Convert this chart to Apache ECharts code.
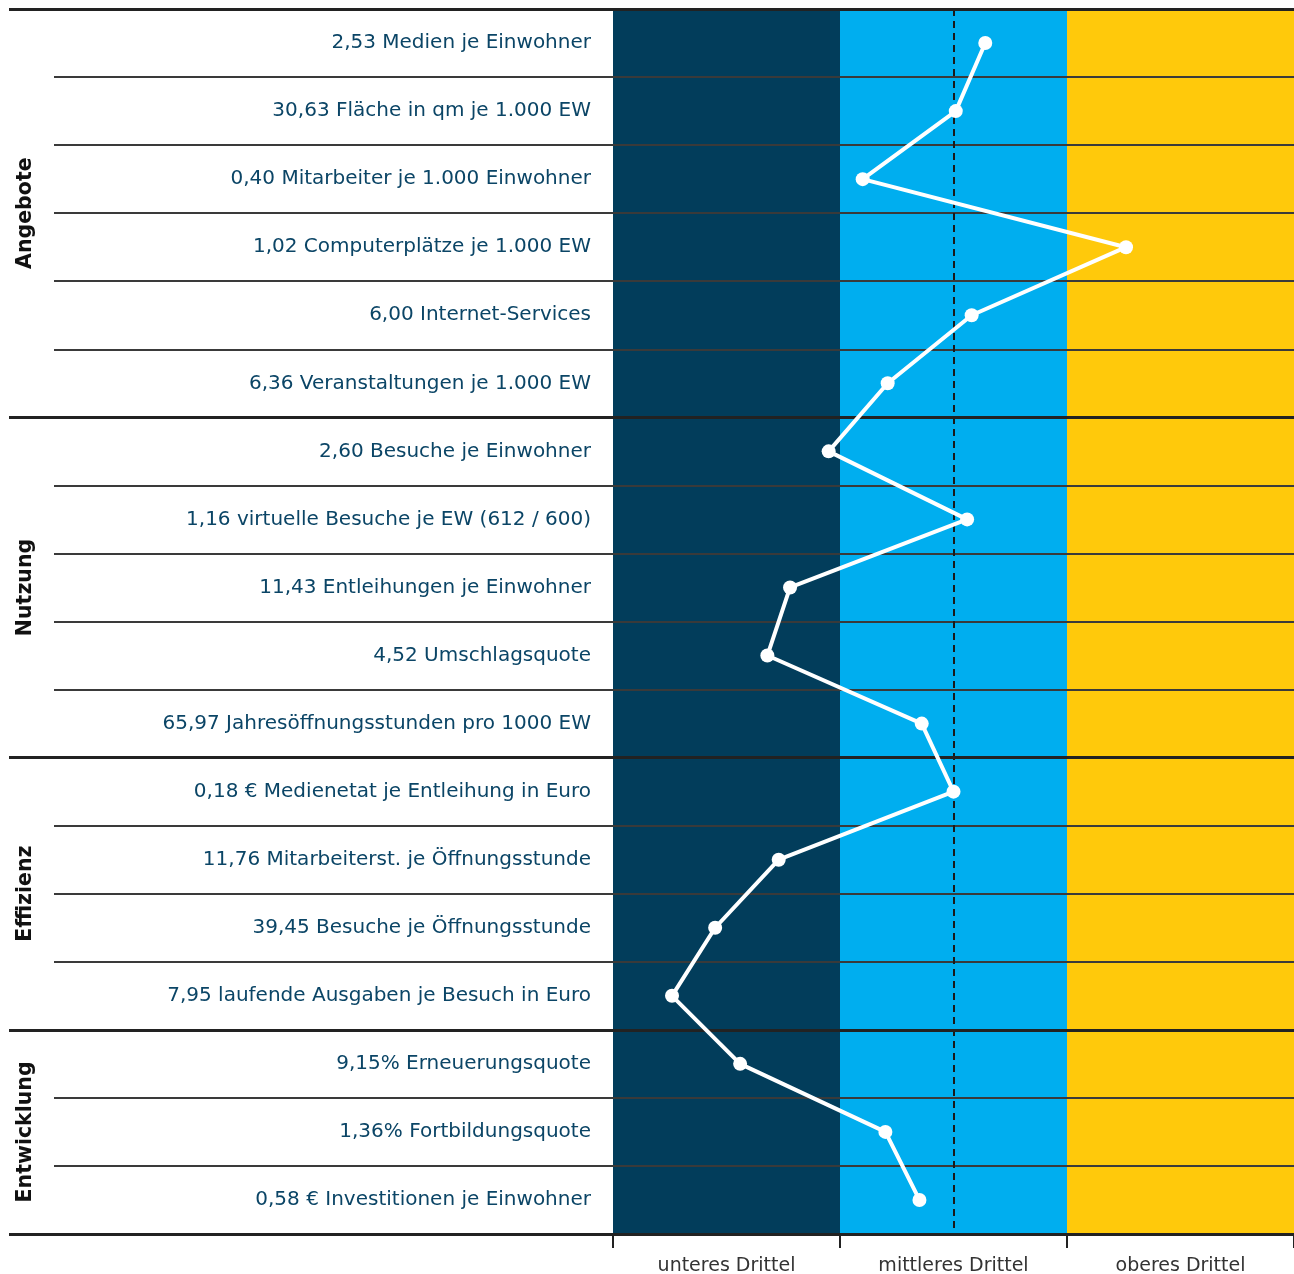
<!DOCTYPE html>
<html>
<head>
<meta charset="utf-8">
<script src="https://cdn.jsdelivr.net/npm/echarts@6/dist/echarts.min.js"></script>
<style>
html,body{margin:0;padding:0;background:#fff;}
#chart{width:1294px;height:1274px;}
</style>
</head>
<body>
<div id="chart"></div>
<script>
const indicators = [
  "2,53 Medien je Einwohner",
  "30,63 Fläche in qm je 1.000 EW",
  "0,40 Mitarbeiter je 1.000 Einwohner",
  "1,02 Computerplätze je 1.000 EW",
  "6,00 Internet-Services",
  "6,36 Veranstaltungen je 1.000 EW",
  "2,60 Besuche je Einwohner",
  "1,16 virtuelle Besuche je EW (612 / 600)",
  "11,43 Entleihungen je Einwohner",
  "4,52 Umschlagsquote",
  "65,97 Jahresöffnungsstunden pro 1000 EW",
  "0,18 € Medienetat je Entleihung in Euro",
  "11,76 Mitarbeiterst. je Öffnungsstunde",
  "39,45 Besuche je Öffnungsstunde",
  "7,95 laufende Ausgaben je Besuch in Euro",
  "9,15% Erneuerungsquote",
  "1,36% Fortbildungsquote",
  "0,58 € Investitionen je Einwohner"
];
// position in thirds (0..3)
const positions = [1.64, 1.51, 1.10, 2.26, 1.58, 1.21, 0.95, 1.56, 0.78, 0.68, 1.36, 1.50, 0.73, 0.45, 0.26, 0.56, 1.20, 1.35];
const groupNames = ["Angebote", "Nutzung", "Effizienz", "Entwicklung"];
const groupSizes = [6, 5, 4, 3];
const thirdLabels = ["unteres Drittel", "mittleres Drittel", "oberes Drittel"];
const bandColors = ["#023d5b", "#00aeef", "#ffc90b"];
const averageMark = 1.5;

// derived
const groupBounds = [0];
groupSizes.forEach(s => groupBounds.push(groupBounds[groupBounds.length - 1] + s));
const groupCenters = groupSizes.map((s, i) => groupBounds[i] + s / 2);
const nRows = indicators.length;

const chart = echarts.init(document.getElementById('chart'));
const gTop = 9, gBottom = 40;
const fontFam = '"DejaVu Sans", "Open Sans", sans-serif';

chart.setOption({
  animation: false,
  backgroundColor: '#fff',
  grid: [
    {left: 613, right: 0, top: gTop, bottom: gBottom, outerBoundsMode: 'none'},
    {left: 54, right: 0, top: gTop, bottom: gBottom, outerBoundsMode: 'none'},
    {left: 9, right: 0, top: gTop, bottom: gBottom, outerBoundsMode: 'none'}
  ],
  xAxis: [
    {
      gridIndex: 0, type: 'value', min: 0, max: 3, interval: 1, z: 0,
      axisLine: {show: false},
      axisTick: {show: true, length: 14, lineStyle: {color: '#222', width: 2}, customValues: [0, 1, 2, 3]},
      axisLabel: {
        show: true, customValues: [0.5, 1.5, 2.5], margin: 23,
        fontFamily: fontFam, fontSize: 19, color: '#333',
        formatter: v => thirdLabels[Math.floor(v)]
      },
      splitLine: {show: false},
      splitArea: {show: true, areaStyle: {color: bandColors}}
    },
    {gridIndex: 1, type: 'value', min: 0, max: 1, show: false},
    {gridIndex: 2, type: 'value', min: 0, max: 1, show: false}
  ],
  yAxis: [
    {
      gridIndex: 0, type: 'category', inverse: true, data: indicators, z: 0,
      axisLine: {show: false}, axisTick: {show: false}, splitLine: {show: false},
      axisLabel: {margin: 22, fontFamily: fontFam, fontSize: 20, color: '#0b4566', padding: [4, 0, 0, 0]}
    },
    {
      gridIndex: 1, type: 'value', inverse: true, min: 0, max: nRows, interval: 1, z: 3,
      axisLine: {show: false}, axisTick: {show: false},
      splitLine: {show: true, lineStyle: {color: '#3a3a3a', width: 2}},
      axisLabel: {
        show: true, customValues: groupCenters, rotate: 90, margin: 18,
        fontFamily: fontFam, fontSize: 20.5, fontWeight: 'bold', color: '#111',
        formatter: v => groupNames[groupCenters.indexOf(v)]
      }
    },
    {
      gridIndex: 2, type: 'value', inverse: true, min: 0, max: nRows, z: 3,
      axisLine: {show: false}, axisTick: {show: false}, splitLine: {show: false},
      axisLabel: {show: false}
    }
  ],
  series: [
    {
      type: 'line', xAxisIndex: 0, yAxisIndex: 0, z: 10,
      data: positions,
      symbol: 'circle', symbolSize: 14,
      lineStyle: {color: '#fff', width: 4},
      itemStyle: {color: '#fff'},
      markLine: {
        silent: true, symbol: 'none', label: {show: false},
        lineStyle: {color: '#1a1a1a', width: 2, type: [7, 5]},
        data: [{xAxis: averageMark}]
      }
    },
    {
      type: 'line', xAxisIndex: 2, yAxisIndex: 2, z: 6, data: [],
      markLine: {
        silent: true, symbol: 'none', label: {show: false},
        lineStyle: {color: '#222', width: 3, type: 'solid'},
        data: groupBounds.map(b => ({yAxis: b}))
      }
    }
  ]
});
</script>
</body>
</html>
